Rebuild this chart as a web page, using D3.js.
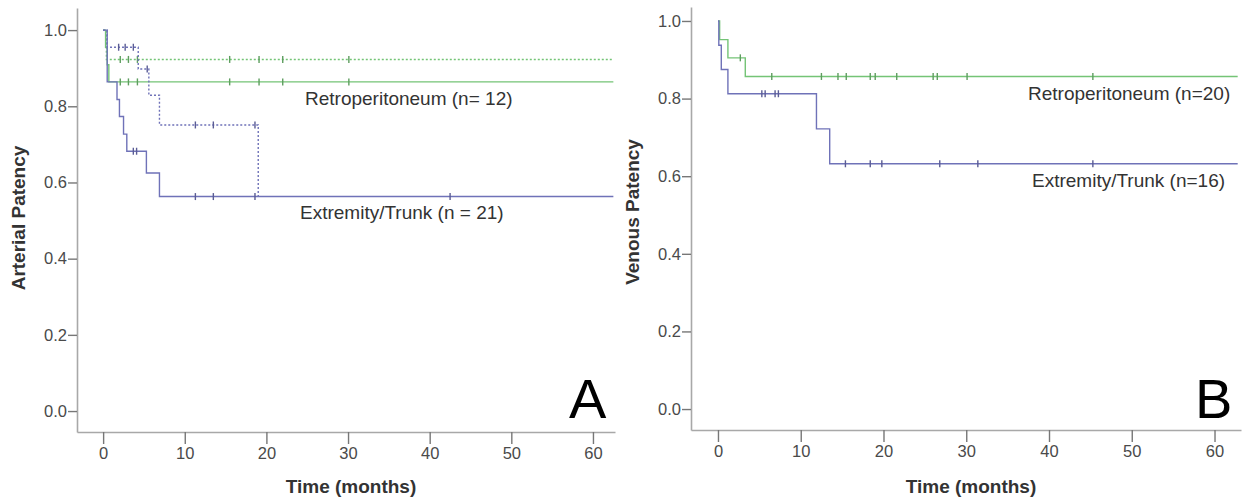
<!DOCTYPE html>
<html>
<head>
<meta charset="utf-8">
<script src="https://cdn.jsdelivr.net/npm/d3@7"></script>
<style>
  body { margin: 0; background: #fff; }
  svg { display: block; font-family: Arial, "Liberation Sans", sans-serif; }
</style>
</head>
<body>
<svg id="chart" width="1243" height="497"></svg>
<script>
// ---- data ----
const xTicks = [0, 10, 20, 30, 40, 50, 60];
const yTicks = [0, 0.2, 0.4, 0.6, 0.8, 1.0];

// Panel A – arterial patency
const aGreenSolidT = [0, 0.3, 0.5, 0.7];
const aGreenSolidS = [1, 0.955, 0.909, 0.864];
const aGreenSolidCens = [2.1, 3.1, 4.2, 15.5, 19.1, 22.0, 30.1];

const aGreenDotT = [0, 0.4];
const aGreenDotS = [1, 0.923];
const aGreenDotCens = [2.1, 3.1, 4.2, 15.5, 19.1, 22.0, 30.1];

const aBlueDotT = [0, 0.5, 4.3, 5.6, 6.9, 19.0];
const aBlueDotS = [1, 0.955, 0.898, 0.829, 0.751, 0.563];
const aBlueDotCens = [1.9, 2.7, 3.7, 5.4, 11.3, 13.5, 18.6];

const aBlueSolidT = [0, 0.5, 1.7, 2.0, 2.5, 2.9, 5.3, 6.9];
const aBlueSolidS = [1, 0.864, 0.818, 0.773, 0.727, 0.682, 0.625, 0.563];
const aBlueSolidCens = [3.7, 4.1, 11.3, 13.5, 18.6, 42.5];

// Panel B – venous patency
const bGreenT = [0, 0.2, 1.2, 3.3];
const bGreenS = [1, 0.952, 0.905, 0.857];
const bGreenCens = [2.7, 6.5, 12.5, 14.5, 15.5, 18.4, 19.0, 21.6, 26.0, 26.5, 30.1, 45.3];

const bBlueT = [0, 0.1, 0.4, 1.2, 11.9, 13.5];
const bBlueS = [1, 0.9375, 0.875, 0.8125, 0.722, 0.632];
const bBlueCens = [5.3, 5.7, 6.9, 7.3, 15.4, 18.4, 19.8, 26.8, 31.4, 45.3];

// ---- drawing ----
const green = "#74c476", blue = "#6f72b8";
const svg = d3.select("#chart");

function panel(o) {
  const g = svg.append("g");
  const x = d3.scaleLinear().domain(o.xDom).range(o.xRange);
  const y = d3.scaleLinear().domain(o.yDom).range(o.yRange);

  const xAxis = g.append("g")
    .attr("transform", `translate(0,${o.yRange[0]})`)
    .call(d3.axisBottom(x).tickValues(xTicks).tickSizeInner(12).tickSizeOuter(0).tickPadding(3));
  const yAxis = g.append("g")
    .attr("transform", `translate(${o.xRange[0]},0)`)
    .call(d3.axisLeft(y).tickValues(yTicks).tickFormat(d3.format(".1f")).tickSizeInner(9).tickSizeOuter(0).tickPadding(1));
  [xAxis, yAxis].forEach(a => {
    a.select(".domain").attr("stroke", "#a8a8a8").attr("stroke-width", 1.6);
    a.selectAll(".tick line").attr("stroke", "#777").attr("stroke-width", 1.4);
    a.selectAll(".tick text").attr("fill", "#4a4a4a").style("font-size", "16.5px").style("font-family", "Arial, 'Liberation Sans', sans-serif");
  });

  g.append("text")
    .attr("transform", `translate(${o.yTitleX},${o.yTitleY}) rotate(-90)`)
    .attr("text-anchor", "middle")
    .attr("dy", "0.35em")
    .style("font-size", "19px").style("font-weight", "bold").attr("fill", "#333")
    .text(o.yTitle);
  g.append("text")
    .attr("x", (o.xRange[0] + o.xRange[1]) / 2 + 5).attr("y", 493)
    .attr("text-anchor", "middle")
    .style("font-size", "19px").style("font-weight", "bold").attr("fill", "#333")
    .text("Time (months)");

  const line = d3.line().x(d => x(d[0])).y(d => y(d[1])).curve(d3.curveStepAfter);

  o.curves.forEach(c => {
    const pts = c.t.map((t, i) => [t, c.s[i]]);
    pts.push([c.end, c.s[c.s.length - 1]]);
    g.append("path")
      .attr("d", line(pts))
      .attr("fill", "none")
      .attr("stroke", c.color)
      .attr("stroke-width", 1.4)
      .attr("stroke-dasharray", c.dash ? "2,2" : null);
    const surv = t => c.s[d3.bisectRight(c.t, t) - 1];
    g.selectAll(null).data(c.cens).enter().append("line")
      .attr("x1", d => x(d)).attr("x2", d => x(d))
      .attr("y1", d => y(surv(d)) - 3.5).attr("y2", d => y(surv(d)) + 3.5)
      .attr("stroke", d3.color(c.color).darker(0.6))
      .attr("stroke-width", 1.4);
  });

  o.labels.forEach(l => {
    g.append("text").attr("x", l.x).attr("y", l.y)
      .style("font-size", "19px").attr("fill", "#333").text(l.text);
  });

  g.append("text").attr("x", o.letterX).attr("y", 418)
    .style("font-size", "56px").attr("fill", "#000").text(o.letter);
}

panel({
  xDom: [-3.2, 62.7], xRange: [77, 615],
  yDom: [-0.055, 1.058], yRange: [432, 8],
  yTitle: "Arterial Patency", yTitleX: 18, yTitleY: 218,
  curves: [
    { t: aGreenDotT, s: aGreenDotS, cens: aGreenDotCens, end: 62.5, color: green, dash: true },
    { t: aGreenSolidT, s: aGreenSolidS, cens: aGreenSolidCens, end: 62.5, color: green, dash: false },
    { t: aBlueDotT, s: aBlueDotS, cens: aBlueDotCens, end: 19.0, color: blue, dash: true },
    { t: aBlueSolidT, s: aBlueSolidS, cens: aBlueSolidCens, end: 62.5, color: blue, dash: false }
  ],
  labels: [
    { x: 305, y: 105, text: "Retroperitoneum (n= 12)" },
    { x: 300, y: 219, text: "Extremity/Trunk (n = 21)" }
  ],
  letter: "A", letterX: 569
});

panel({
  xDom: [-3.26, 63.2], xRange: [691, 1241],
  yDom: [-0.054, 1.036], yRange: [430, 7],
  yTitle: "Venous Patency", yTitleX: 632, yTitleY: 212,
  curves: [
    { t: bGreenT, s: bGreenS, cens: bGreenCens, end: 62.8, color: green, dash: false },
    { t: bBlueT, s: bBlueS, cens: bBlueCens, end: 62.8, color: blue, dash: false }
  ],
  labels: [
    { x: 1028, y: 100, text: "Retroperitoneum (n=20)" },
    { x: 1032, y: 187, text: "Extremity/Trunk (n=16)" }
  ],
  letter: "B", letterX: 1195
});
</script>
</body>
</html>
